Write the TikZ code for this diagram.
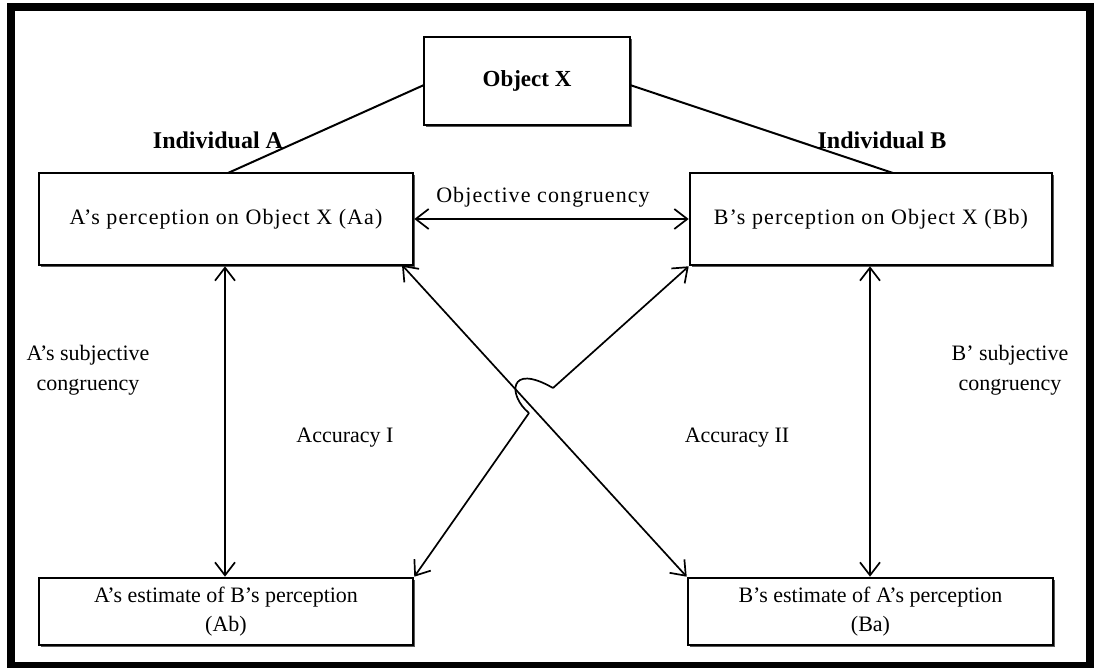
\documentclass[tikz,border=0pt]{standalone}
\usepackage{fontspec}
\setmainfont{Liberation Serif}
\newfontfamily\spacedserif{Liberation Serif}[LetterSpace=5]
\usetikzlibrary{arrows.meta,shadows}
\begin{document}
\begin{tikzpicture}[x=1pt,y=-1pt,
  box/.style={draw=black,line width=2.6pt,fill=white,minimum width=#1,inner sep=0pt,
    align=center,font=\fontsize{22}{30}\selectfont,
    drop shadow={shadow xshift=2pt,shadow yshift=-2pt,fill=black!65,opacity=1}},
  link/.style={line width=2pt},
  dbl/.style={line width=1.7pt,{Straight Barb[length=13pt,width=20pt,line width=1.7pt]}-{Straight Barb[length=13pt,width=20pt,line width=1.7pt]}},
  sgl/.style={line width=1.7pt,-{Straight Barb[length=13pt,width=20pt,line width=1.7pt]}},
  lbl/.style={font=\fontsize{22}{30}\selectfont,align=center,inner sep=0pt},
  hdr/.style={font=\fontsize{24}{28}\selectfont\bfseries,inner sep=0pt}]
\useasboundingbox (0,0) rectangle (1097,668);
% outer frame
\draw[line width=8pt] (11,7) rectangle (1090,666);
% boxes
\node[box=206pt,minimum height=88pt,font=\fontsize{23}{28}\selectfont\bfseries] (OX) at (527,81) {Object X};
\node[box=374pt,minimum height=92pt,font=\fontsize{22}{30}\spacedserif] (Aa) at (226,219) {A’s perception on Object X (Aa)};
\node[box=362pt,minimum height=92pt,font=\fontsize{22}{30}\spacedserif] (Bb) at (871,219) {B’s perception on Object X (Bb)};
\node[box=374pt,minimum height=67pt] (Ab) at (226,611.5) {A’s estimate of B’s perception\\[-1pt](Ab)};
\node[box=365pt,minimum height=67pt] (Ba) at (870.5,611.5) {B’s estimate of A’s perception\\[-1pt](Ba)};
% links to the object
\coordinate (ol) at (424,85);
\coordinate (or) at (630,85);
\coordinate (at) at (228,173);
\coordinate (bt) at (893,173);
\draw[link] (ol) -- (at);
\draw[link] (or) -- (bt);
\node[hdr] (IA) at (218,140) {Individual A};
\node[hdr] (IB) at (882,140) {Individual B};
% congruency arrows
\draw[dbl] (Aa.east) -- (Bb.west);
\node[lbl,font=\fontsize{22}{30}\spacedserif] (oc) at (543,197) {Objective congruency};
\coordinate (xa) at (225,0);
\coordinate (xb) at (870,0);
\draw[dbl] (Aa.south -| xa) -- (Ab.north -| xa);
\draw[dbl] (Bb.south -| xb) -- (Ba.north -| xb);
\node[lbl] (sa) at (88,370) {A’s subjective\\congruency};
\node[lbl] (sb) at (1010,370) {B’ subjective\\congruency};
% accuracy arrows, the first hopping over the second
\coordinate (a2s) at (402,265);
\draw[dbl] (a2s) -- (Ba.north west);
\coordinate (h1) at (529,413);
\coordinate (h2) at (553,388);
\draw[sgl] (h1) -- (Ab.north east);
\draw[sgl] (h2) -- (Bb.south west);
\draw[line width=1.7pt] (h1) .. controls (508,396) and (508,362) .. (h2);
\node[lbl] (acc1) at (345,438) {Accuracy I};
\node[lbl] (acc2) at (737,438) {Accuracy II};
\end{tikzpicture}
\end{document}
